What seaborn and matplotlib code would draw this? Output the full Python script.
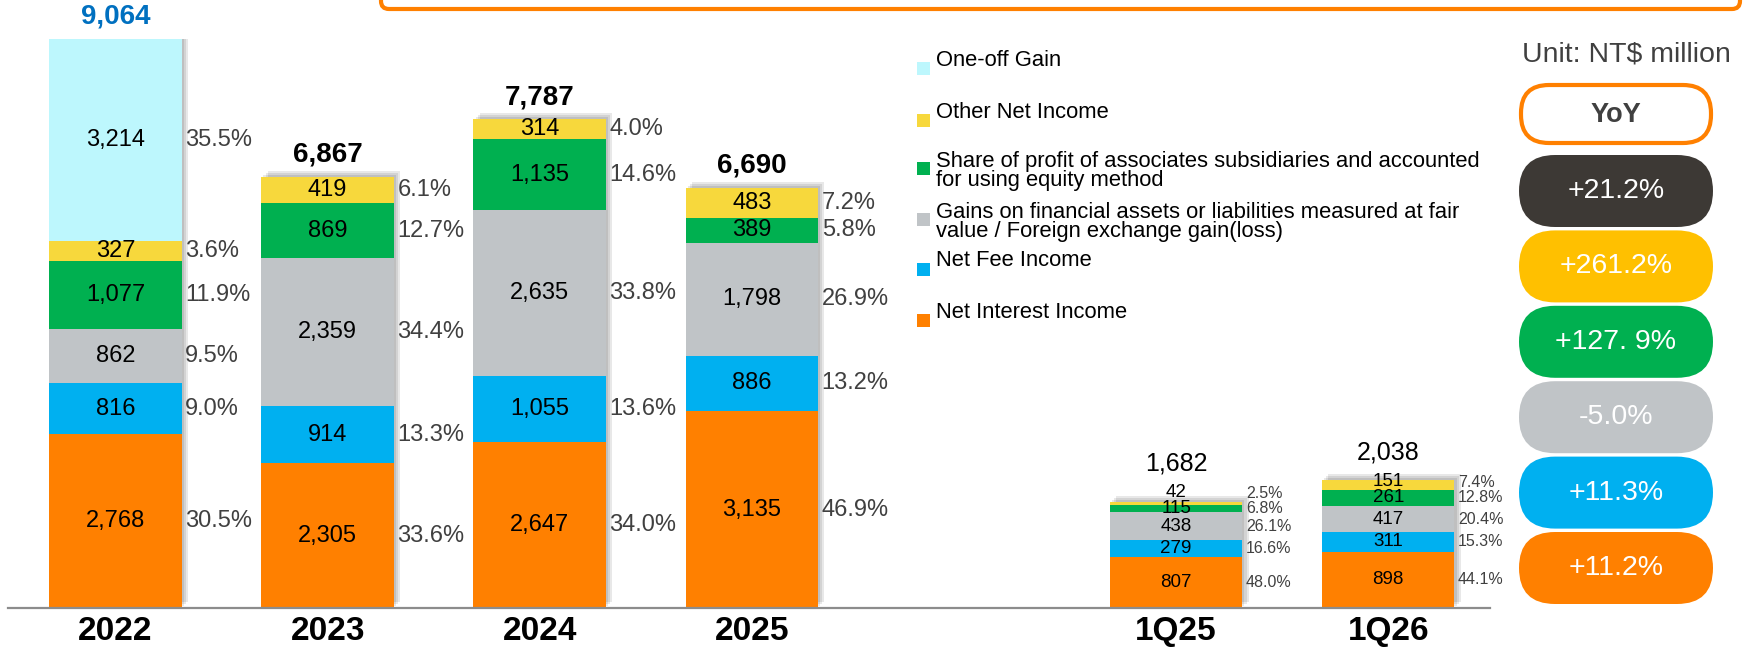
import numpy as np
import matplotlib
matplotlib.use("Agg")
import matplotlib.pyplot as plt
import matplotlib.patheffects as pe
from matplotlib.patches import FancyBboxPatch, Rectangle
import seaborn as sns

# ---------------------------------------------------------------------------
# data (NT$ million)
periods = ["2022", "2023", "2024", "2025", "1Q25", "1Q26"]
slots = [0, 1, 2, 3, 5, 6]          # empty slot between years and quarters

components = [
    "Net Interest Income",
    "Net Fee Income",
    "Gains on financial assets or liabilities measured at fair\nvalue / Foreign exchange gain(loss)",
    "Share of profit of associates subsidiaries and accounted\nfor using equity method",
    "Other Net Income",
    "One-off Gain",
]
net_interest = [2768, 2305, 2647, 3135, 807, 898]
net_fee = [816, 914, 1055, 886, 279, 311]
fin_gains = [862, 2359, 2635, 1798, 438, 417]
equity_share = [1077, 869, 1135, 389, 115, 261]
other_income = [327, 419, 314, 483, 42, 151]
one_off = [3214, 0, 0, 0, 0, 0]
totals = [9064, 6867, 7787, 6690, 1682, 2038]

pct_interest = [30.5, 33.6, 34.0, 46.9, 48.0, 44.1]
pct_fee = [9.0, 13.3, 13.6, 13.2, 16.6, 15.3]
pct_gains = [9.5, 34.4, 33.8, 26.9, 26.1, 20.4]
pct_share = [11.9, 12.7, 14.6, 5.8, 6.8, 12.8]
pct_other = [3.6, 6.1, 4.0, 7.2, 2.5, 7.4]
pct_one_off = [35.5, None, None, None, None, None]

yoy_values = ["+21.2%", "+261.2%", "+127. 9%", "-5.0%", "+11.3%", "+11.2%"]

colors = ["#FF8000", "#00B0F0", "#C0C4C7", "#00B050", "#F7D83C", "#BDF7FD"]
yoy_colors = ["#3D3935", "#FFC000", "#00B050", "#C0C4C7", "#00B0F0", "#FF8000"]

series = [net_interest, net_fee, fin_gains, equity_share, other_income, one_off]
pcts = [pct_interest, pct_fee, pct_gains, pct_share, pct_other, pct_one_off]
stack = np.cumsum(np.array(series, dtype=float), axis=0)

# ---------------------------------------------------------------------------
sns.set_style("white")
plt.rcParams["font.family"] = ["Liberation Sans", "DejaVu Sans"]

W, H = 1749, 651
fig = plt.figure(figsize=(W / 100, H / 100), dpi=100)
ax = fig.add_axes([8 / W, 43 / H, 1482 / W, 569 / H])

bar_w = 0.625
shadow = [pe.SimplePatchShadow(offset=(d, d), shadow_rgbFace="#000000", alpha=0.09)
          for d in (1.5, 3.0, 4.5)] + [pe.Normal()]

# stacked bars: draw cumulative totals from the top segment down
for level in range(len(series) - 1, -1, -1):
    n_before = len(ax.patches)
    sns.barplot(x=slots, y=stack[level], native_scale=True, color=colors[level],
                saturation=1, width=bar_w, errorbar=None, linewidth=0, ax=ax)
    if level == len(series) - 1:
        for p in ax.patches[n_before:]:
            p.set_path_effects(shadow)

for j, slot in enumerate(slots):
    quarter = periods[j].startswith("1Q")
    vsize, psize = (13.5, 11.5) if quarter else (17, 17)
    last_v, last_p = -1e9, -1e9
    for i in range(len(series)):
        v = series[i][j]
        if v <= 0:
            continue
        mid = stack[i][j] - v / 2
        yv = max(mid, last_v + 260)
        yp = max(mid, last_p + 240)
        last_v, last_p = yv, yp
        ax.text(slot, yv, f"{v:,}", ha="center", va="center", fontsize=vsize,
                color="black", zorder=5)
        ax.annotate(f"{pcts[i][j]:.1f}%", (slot + bar_w / 2, yp), xytext=(2.5, 0),
                    textcoords="offset points", ha="left", va="center",
                    fontsize=psize, color="#404040", zorder=5)
    top = max(stack[-1][j], last_v + 100)
    ax.annotate(f"{totals[j]:,}", (slot, top), xytext=(0, 16), textcoords="offset points",
                ha="center", va="center", fontsize=18 if quarter else 20,
                fontweight="normal" if quarter else "bold",
                color="#0070C0" if j == 0 else "black", annotation_clip=False)

ax.set_xlim(-0.507, 6.48)
ax.set_ylim(0, 9064)
ax.set_xticks(slots)
ax.set_xticklabels(periods, fontsize=24, fontweight="bold", color="black")
ax.set_yticks([])
ax.tick_params(axis="x", length=0, pad=6)
ax.set_xlabel("")
ax.set_ylabel("")
for side in ("top", "left", "right"):
    ax.spines[side].set_visible(False)
ax.spines["bottom"].set_color("#8C8C8C")
ax.spines["bottom"].set_linewidth(1.6)

# ---------------------------------------------------------------------------
# overlay in pixel coordinates: legend, unit, YoY column, frame
ov = fig.add_axes([0, 0, 1, 1], zorder=3)
ov.set_xlim(0, W)
ov.set_ylim(H, 0)
ov.axis("off")

ov.add_patch(FancyBboxPatch((381, -60), 1359, 69, boxstyle="round,pad=0,rounding_size=8",
                            ec="#FF8000", fc="none", lw=3))

legend_rows = [60, 112, 171, 222, 261, 312]
for k, level in enumerate(range(len(components) - 1, -1, -1)):
    name = components[level]
    row = legend_rows[k]
    two_lines = "\n" in name
    ov.text(936, row, name, ha="left", va="center", fontsize=15.8, color="black",
            linespacing=0.93)
    sq = (row - 3) if two_lines else (row + 8)
    ov.add_patch(Rectangle((917, sq - 6.5), 13, 13, fc=colors[level], ec="none"))

ov.text(1626, 55, "Unit: NT$ million", ha="center", va="center", fontsize=20.5,
        color="#404040")
ov.add_patch(FancyBboxPatch((1521, 85), 190, 58, boxstyle="round,pad=0,rounding_size=28",
                            ec="#FF8000", fc="white", lw=3))
ov.text(1616, 115, "YoY", ha="center", va="center", fontsize=19.5, fontweight="bold",
        color="#404040")
for k, (val, col) in enumerate(zip(yoy_values, yoy_colors)):
    y0 = 155 + k * 75.4
    ov.add_patch(FancyBboxPatch((1519, y0), 194, 72, boxstyle="round,pad=0,rounding_size=36",
                                ec="none", fc=col))
    ov.text(1616, y0 + 36, val, ha="center", va="center", fontsize=20.5, color="white")

fig.savefig("out.png", dpi=100)
